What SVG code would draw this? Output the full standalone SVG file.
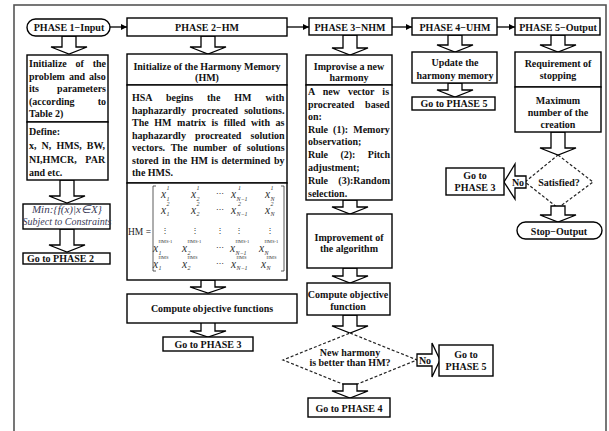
<svg xmlns="http://www.w3.org/2000/svg" width="609" height="431" viewBox="0 0 609 431">
<style>
.bg{fill:#fff}
.frame{fill:none;stroke:#555;stroke-width:1.6}
.box{fill:#fff;stroke:#000;stroke-width:1.4}
.ln{stroke:#000;stroke-width:1.3;fill:none}
.blk{fill:#fff;stroke:#000;stroke-width:1.3;stroke-linejoin:miter}
.dash{fill:#fff;stroke:#222;stroke-width:1.2;stroke-dasharray:3 2}
.t{font-family:"Liberation Serif","Times New Roman",serif;font-weight:bold;font-size:10px;fill:#111}
.c{text-anchor:middle}
.it{font-family:"Liberation Serif","Times New Roman",serif;font-style:italic;font-size:10px;fill:#3b3b58}
.m{font-family:"Liberation Serif","Times New Roman",serif;font-style:italic;font-size:11.5px;fill:#333}
.s{font-family:"Liberation Serif","Times New Roman",serif;font-style:italic;font-size:6px;fill:#333}
.ss{font-family:"Liberation Serif","Times New Roman",serif;font-size:4.6px;fill:#333}
.d{font-family:"DejaVu Serif",serif;font-size:8px;fill:#333;text-anchor:middle}
.hm{font-family:"Liberation Serif","Times New Roman",serif;font-size:9.5px;fill:#222}
</style>
<defs>
<marker id="ah" viewBox="0 0 10 10" refX="10" refY="5" markerWidth="5" markerHeight="5" orient="auto"><path d="M0,0 L10,5 L0,10 z" fill="#000"/></marker>
</defs>
<rect class="bg" x="0" y="0" width="609" height="431"/>
<rect class="frame" x="14" y="5" width="592" height="440"/>

<g id="connectors">
<line class="ln" x1="110" y1="27" x2="127" y2="27" marker-end="url(#ah)"/>
<line class="ln" x1="287" y1="27" x2="309" y2="27" marker-end="url(#ah)"/>
<line class="ln" x1="392" y1="27" x2="412" y2="27" marker-end="url(#ah)"/>
<line class="ln" x1="497" y1="27" x2="515" y2="27" marker-end="url(#ah)"/>
<polygon class="blk" points="62,36 76,36 76,47 87,47 69,54 51,47 62,47"/>
<polygon class="blk" points="60,180 74,180 74,196 85,196 67,203 49,196 60,196"/>
<polygon class="blk" points="60,229 74,229 74,245 85,245 67,252 49,245 60,245"/>
<polygon class="blk" points="201,36 215,36 215,47 226,47 208,54 190,47 201,47"/>
<polygon class="blk" points="201,280 215,280 215,287 226,287 208,293 190,287 201,287"/>
<polygon class="blk" points="201,322 215,322 215,331 226,331 208,337 190,331 201,331"/>
<polygon class="blk" points="343,35 357,35 357,48 368,48 350,55 332,48 343,48"/>
<polygon class="blk" points="343,200 357,200 357,207 368,207 350,214 332,207 343,207"/>
<polygon class="blk" points="343,268 357,268 357,276 368,276 350,283 332,276 343,276"/>
<polygon class="blk" points="343,315 357,315 357,326 368,326 350,333 332,326 343,326"/>
<polygon class="blk" points="448,35 462,35 462,45 473,45 455,52 437,45 448,45"/>
<polygon class="blk" points="448,83 462,83 462,90 473,90 455,97 437,90 448,90"/>
<polygon class="blk" points="551,35 565,35 565,45 576,45 558,52 540,45 551,45"/>
<polygon class="blk" points="551,132 565,132 565,148 576,148 558,155 540,148 551,148"/>
</g>

<g id="phase1-header">
<rect class="box" x="27" y="19" width="83" height="17" rx="8.5"/>
<text class="t c" x="69" y="31">PHASE 1−Input</text>
</g>
<g id="phase1-init">
<rect class="box" x="27" y="55" width="81" height="67"/>
<text class="t" x="29" y="67" style="word-spacing:6.3px">Initialize of the</text>
<text class="t" x="29" y="79.5" style="word-spacing:1.5px">problem and also</text>
<text class="t" x="29" y="92" style="word-spacing:15.6px">its parameters</text>
<text class="t" x="29" y="104.5" style="word-spacing:20.6px">(according to</text>
<text class="t" x="29" y="117">Table 2)</text>
</g>
<g id="phase1-define">
<rect class="box" x="27" y="122" width="81" height="58"/>
<text class="t" x="29" y="135">Define:</text>
<text class="t" x="29" y="149" style="word-spacing:2.6px">x, N, HMS, BW,</text>
<text class="t" x="29" y="162.5" style="word-spacing:6.1px">NI,HMCR, PAR</text>
<text class="t" x="29" y="176">and etc.</text>
</g>
<g id="phase1-min">
<rect class="box" x="23" y="204" width="87" height="25"/>
<text class="it c" x="67" y="213" style="font-size:11px">Min:{f(x)|x∈X}</text>
<text class="it c" x="67" y="225">Subject to Constraints</text>
</g>
<g id="phase1-goto">
<rect class="box" x="23" y="253" width="87" height="11"/>
<text class="t" x="27" y="262">Go to PHASE 2</text>
</g>

<g id="phase2-header">
<rect class="box" x="127" y="18" width="160" height="18"/>
<text class="t c" x="207" y="31">PHASE 2−HM</text>
</g>
<g id="phase2-init">
<rect class="box" x="127" y="54" width="160" height="31"/>
<text class="t c" x="207" y="69.5">Initialize of the Harmony Memory</text>
<text class="t c" x="207" y="81">(HM)</text>
</g>
<g id="phase2-desc">
<rect class="box" x="127" y="85" width="160" height="98"/>
<text class="t" x="132" y="101" style="word-spacing:11.4px">HSA begins the HM with</text>
<text class="t" x="132" y="113.5" style="word-spacing:3.5px">haphazardly procreated solutions.</text>
<text class="t" x="132" y="126" style="word-spacing:3.1px">The HM matrix is filled with as</text>
<text class="t" x="132" y="138.5" style="word-spacing:6.7px">haphazardly procreated solution</text>
<text class="t" x="132" y="151" style="word-spacing:3.3px">vectors. The number of solutions</text>
<text class="t" x="132" y="163.5" style="word-spacing:1px">stored in the HM is determined by</text>
<text class="t" x="132" y="176">the HMS.</text>
</g>
<g id="phase2-matrix">
<rect class="box" x="127" y="183" width="160" height="97"/>
<text class="hm" x="128" y="234.5">HM =</text>
<path class="ln" style="stroke-width:0.8;stroke:#333" d="M156,186 L153,186 L153,271 L156,271 M281,186 L284,186 L284,271 L281,271"/>
<text class="m" x="161" y="198">x</text><text class="s" x="166.5" y="190">1</text><text class="s" x="166.5" y="200.5">1</text>
<text class="m" x="191" y="198">x</text><text class="s" x="196.5" y="190">1</text><text class="s" x="196.5" y="200.5">2</text>
<text class="d" x="220" y="196">⋯</text>
<text class="m" x="231" y="198">x</text><text class="s" x="238" y="190">1</text><text class="s" x="236.5" y="200.5">N−1</text>
<text class="m" x="265" y="198">x</text><text class="s" x="270.5" y="190">1</text><text class="s" x="270.5" y="200.5">N</text>
<text class="m" x="161" y="213.5">x</text><text class="s" x="166.5" y="205.5">2</text><text class="s" x="166.5" y="216">1</text>
<text class="m" x="191" y="213.5">x</text><text class="s" x="196.5" y="205.5">2</text><text class="s" x="196.5" y="216">2</text>
<text class="d" x="220" y="211.5">⋯</text>
<text class="m" x="231" y="213.5">x</text><text class="s" x="238" y="205.5">2</text><text class="s" x="236.5" y="216">N−1</text>
<text class="m" x="265" y="213.5">x</text><text class="s" x="270.5" y="205.5">2</text><text class="s" x="270.5" y="216">N</text>
<text class="d" x="165" y="233">⋮</text>
<text class="d" x="195" y="233">⋮</text>
<text class="d" x="220" y="233">⋮</text>
<text class="d" x="239" y="233">⋮</text>
<text class="d" x="270" y="233">⋮</text>
<text class="m" x="153" y="252">x</text><text class="ss" x="158.5" y="243">HMS-1</text><text class="s" x="158.5" y="254.5">1</text>
<text class="m" x="182" y="252">x</text><text class="ss" x="187.5" y="243">HMS-1</text><text class="s" x="187.5" y="254.5">2</text>
<text class="d" x="220" y="250">⋯</text>
<text class="m" x="230" y="252">x</text><text class="ss" x="235.5" y="243">HMS-1</text><text class="s" x="235.5" y="254.5">N−1</text>
<text class="m" x="259" y="252">x</text><text class="ss" x="264.5" y="243">HMS-1</text><text class="s" x="264.5" y="254.5">N</text>
<text class="m" x="153" y="267.5">x</text><text class="ss" x="158.5" y="259">HMS</text><text class="s" x="158.5" y="270">1</text>
<text class="m" x="182" y="267.5">x</text><text class="ss" x="187.5" y="259">HMS</text><text class="s" x="187.5" y="270">2</text>
<text class="d" x="220" y="265.5">⋯</text>
<text class="m" x="231" y="267.5">x</text><text class="ss" x="236.5" y="259">HMS</text><text class="s" x="236.5" y="270">N−1</text>
<text class="m" x="261" y="267.5">x</text><text class="ss" x="266.5" y="259">HMS</text><text class="s" x="266.5" y="270">N</text>
</g>
<g id="phase2-compute">
<rect class="box" x="127" y="294" width="170" height="29"/>
<text class="t c" x="212" y="312">Compute objective functions</text>
</g>
<g id="phase2-goto">
<rect class="box" x="163" y="337" width="90" height="14"/>
<text class="t c" x="208" y="347.5">Go to PHASE 3</text>
</g>

<g id="phase3-header">
<rect class="box" x="309" y="18" width="83" height="17"/>
<text class="t c" x="350" y="30.5">PHASE 3−NHM</text>
</g>
<g id="phase3-improvise">
<rect class="box" x="306" y="55" width="86" height="30"/>
<text class="t c" x="349" y="70">Improvise a new</text>
<text class="t c" x="349" y="81">harmony</text>
</g>
<g id="phase3-rules">
<rect class="box" x="306" y="85" width="86" height="115"/>
<text class="t" x="308" y="95" style="word-spacing:5.5px">A new vector is</text>
<text class="t" x="308" y="107.5" style="word-spacing:8.3px">procreated based</text>
<text class="t" x="308" y="120">on:</text>
<text class="t" x="308" y="132.5" style="word-spacing:2.6px">Rule (1): Memory</text>
<text class="t" x="308" y="145">observation;</text>
<text class="t" x="308" y="158" style="word-spacing:9.9px">Rule (2): Pitch</text>
<text class="t" x="308" y="171">adjustment;</text>
<text class="t" x="308" y="184" style="word-spacing:7.8px">Rule (3):Random</text>
<text class="t" x="308" y="196.5">selection.</text>
</g>
<g id="phase3-improvement">
<rect class="box" x="307" y="214" width="85" height="54"/>
<text class="t c" x="349" y="240.5">Improvement of</text>
<text class="t c" x="349" y="252">the algorithm</text>
</g>
<g id="phase3-compute">
<rect class="box" x="307" y="283" width="83" height="32"/>
<text class="t c" x="348" y="297.5">Compute objective</text>
<text class="t c" x="348" y="309.5">function</text>
</g>
<g id="phase3-decision">
<polygon class="dash" points="350,333 417,360 350,387 283,360"/>
<text class="t c" x="350" y="355.5">New harmony</text>
<text class="t c" x="350" y="366">is better than HM?</text>
</g>
<g id="phase3-arrows">
<polygon class="blk" points="343,384 357,384 357,391 368,391 350,398 332,391 343,391"/>
<polygon class="blk" points="417,354 432,354 432,343 440,360 432,377 432,366 417,366"/>
<text class="t c" x="425" y="364">No</text>
</g>
<g id="phase3-goto4">
<rect class="box" x="308" y="398" width="82" height="19"/>
<text class="t c" x="349" y="411.5">Go to PHASE 4</text>
</g>
<g id="phase3-goto5">
<rect class="box" x="439" y="345" width="54" height="31"/>
<text class="t c" x="466" y="358">Go to</text>
<text class="t c" x="466" y="370">PHASE 5</text>
</g>

<g id="phase4-header">
<rect class="box" x="412" y="18" width="85" height="17"/>
<text class="t c" x="455" y="30.5">PHASE 4−UHM</text>
</g>
<g id="phase4-update">
<rect class="box" x="412" y="52" width="85" height="31"/>
<text class="t c" x="455" y="66">Update the</text>
<text class="t c" x="455" y="78.5">harmony memory</text>
</g>
<g id="phase4-goto">
<rect class="box" x="412" y="97" width="83" height="13"/>
<text class="t c" x="454" y="107">Go to PHASE 5</text>
</g>

<g id="phase5-header">
<rect class="box" x="515" y="18" width="85" height="17"/>
<text class="t c" x="558" y="30.5">PHASE 5−Output</text>
</g>
<g id="phase5-stop">
<rect class="box" x="515" y="52" width="86" height="35"/>
<text class="t c" x="558" y="67">Requirement of</text>
<text class="t c" x="558" y="79">stopping</text>
</g>
<g id="phase5-max">
<rect class="box" x="515" y="87" width="86" height="45"/>
<text class="t c" x="558" y="104">Maximum</text>
<text class="t c" x="558" y="116">number of the</text>
<text class="t c" x="558" y="127.5">creation</text>
</g>
<g id="phase5-decision">
<polygon class="dash" points="558,155 593,182 558,208 525,182"/>
<text class="t c" x="559" y="185.5">Satisfied?</text>
</g>
<g id="phase5-arrows">
<polygon class="blk" points="551,206 565,206 565,215 576,215 558,222 540,215 551,215"/>
<polygon class="blk" points="526,176 515,176 515,164 504,182 515,199 515,188 526,188"/>
<text class="t c" x="518" y="185.5">No</text>
</g>
<g id="phase5-goto3">
<rect class="box" x="446" y="168" width="58" height="27"/>
<text class="t c" x="475" y="179">Go to</text>
<text class="t c" x="475" y="191">PHASE 3</text>
</g>
<g id="phase5-output">
<rect class="box" x="517" y="222" width="85" height="17" rx="8.5"/>
<text class="t c" x="559" y="234.5">Stop−Output</text>
</g>
</svg>
